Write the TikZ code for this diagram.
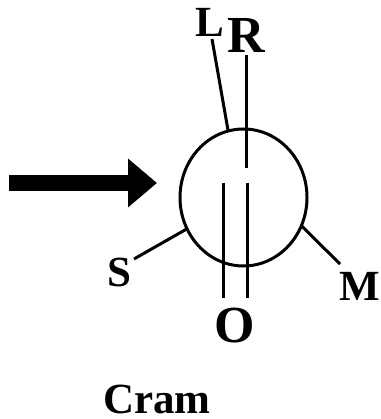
\documentclass[tikz,border=0pt]{standalone}
\usepackage{fontspec}
\setmainfont{Liberation Serif}
\usetikzlibrary{arrows.meta,positioning,shapes.geometric}
\tikzset{
  lab/.style={font=\bfseries\fontsize{43}{43}\selectfont, inner sep=0pt},
  biglab/.style={font=\bfseries\fontsize{52}{52}\selectfont, inner sep=0pt},
  bond/.style={line width=3pt},
}
\begin{document}
\begin{tikzpicture}[x=1pt,y=-1pt]
  \useasboundingbox (0,0) rectangle (380,419);
  % Define nodes
  \node[ellipse, draw, line width=3pt, outer sep=0pt, minimum width=127pt, minimum height=137pt, inner sep=0pt] (ring) at (243.5,197.5) {};
  \node[lab] (l) at (210,22) {L};
  \node[biglab] (r) at (246,35) {R};
  \node[lab] (s) at (119,272) {S};
  \node[lab] (m) at (360,286) {M};
  \node[biglab] (o) at (235,326) {O};
  \node[lab] (cram) at (157,399) {Cram};
  \coordinate (lend) at (212,39);
  \coordinate (rtop) at (246,55);
  \coordinate (rin) at (246,168);
  \coordinate (send) at (134,259);
  \coordinate (mend) at (340,264);
  \coordinate (otop1) at (223,183);
  \coordinate (otop2) at (247,183);
  \coordinate (oend1) at (223,298);
  \coordinate (oend2) at (247,298);
  \coordinate (tail) at (9,183);
  \coordinate (head) at (157,183);

  % Define edges
  \draw[bond] (lend) -- (ring.103);
  \draw[bond] (rtop) -- (rin);
  \draw[bond] (send) -- (ring.209.6);
  \draw[bond] (mend) -- (ring.-26);
  \draw[bond] (otop1) -- (oend1);
  \draw[bond] (otop2) -- (oend2);
  \draw[line width=16pt, -{Triangle[length=29pt,width=47pt]}] (tail) -- (head);
\end{tikzpicture}
\end{document}
